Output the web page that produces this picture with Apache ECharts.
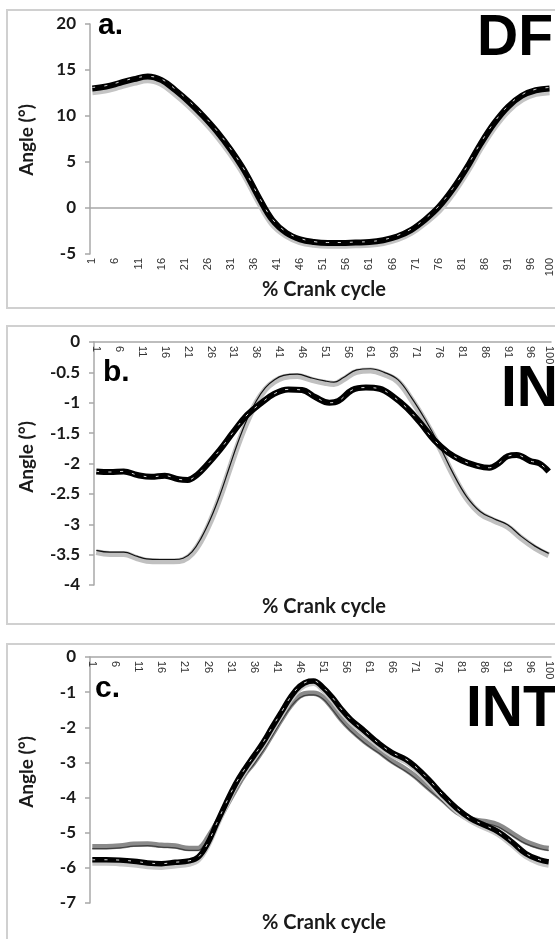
<!DOCTYPE html>
<html><head><meta charset="utf-8">
<script src="https://cdn.jsdelivr.net/npm/echarts@6/dist/echarts.min.js"></script>
<style>html,body{margin:0;padding:0;background:#fff}#c{width:555px;height:939px}</style>
</head><body><div id="c"></div>
<script>
// ---------- DATA ----------
const categories = Array.from({length: 100}, (_, i) => String(i + 1));

// Panel a: DF
const dfX = [1,4,7,10,13,16,19,22,25,28,31,34,37,40,43,46,49,52,55,58,61,64,67,70,73,76,79,82,85,88,91,94,97,100];
const dfBlack = [13.0,13.2,13.6,14.0,14.3,13.9,12.8,11.5,10.0,8.3,6.3,4.0,1.2,-1.3,-2.7,-3.4,-3.7,-3.8,-3.8,-3.75,-3.7,-3.5,-3.1,-2.4,-1.3,0.1,2.0,4.3,6.9,9.2,11.0,12.2,12.8,13.0];
const dfGrey  = [12.7,12.9,13.3,13.7,14.0,13.6,12.5,11.2,9.7,8.0,6.0,3.7,0.9,-1.6,-2.9,-3.6,-3.9,-4.0,-4.0,-3.95,-3.9,-3.7,-3.3,-2.6,-1.5,-0.2,1.7,4.0,6.6,8.9,10.7,11.9,12.5,12.7];
const dfDash  = [13.1,13.3,13.7,14.1,14.3,14.0,12.9,11.6,10.1,8.4,6.4,4.1,1.3,-1.2,-2.6,-3.3,-3.65,-3.75,-3.75,-3.7,-3.65,-3.45,-3.0,-2.3,-1.2,0.2,2.1,4.4,7.0,9.3,11.1,12.3,12.9,13.1];

// Panel b: IN
const inX = [1,4,7,10,13,16,19,21,23,25,28,31,34,37,40,43,46,49,52,54,57,60,63,66,69,72,75,78,81,84,87,89,91,93,96,98,100];
const inBlack = [-2.13,-2.14,-2.13,-2.19,-2.22,-2.20,-2.26,-2.27,-2.19,-2.04,-1.78,-1.48,-1.20,-1.01,-0.85,-0.78,-0.79,-0.91,-1.0,-0.97,-0.79,-0.75,-0.77,-0.90,-1.09,-1.34,-1.62,-1.82,-1.95,-2.03,-2.07,-2.0,-1.88,-1.86,-1.96,-2.0,-2.13];
const inGX = [1,4,7,10,12,15,18,20,22,24,26,28,30,32,34,36,38,40,42,45,48,51,53,55,58,61,64,67,70,73,76,79,82,85,88,91,94,97,100];
const inGrey = [-3.46,-3.49,-3.49,-3.56,-3.60,-3.61,-3.61,-3.59,-3.48,-3.26,-2.95,-2.57,-2.13,-1.69,-1.31,-1.00,-0.78,-0.65,-0.58,-0.56,-0.62,-0.67,-0.69,-0.62,-0.49,-0.47,-0.53,-0.65,-0.95,-1.31,-1.72,-2.18,-2.57,-2.82,-2.94,-3.04,-3.23,-3.39,-3.51];
const inThin = [-3.43,-3.46,-3.46,-3.53,-3.57,-3.58,-3.58,-3.56,-3.45,-3.22,-2.91,-2.53,-2.09,-1.65,-1.27,-0.97,-0.75,-0.62,-0.55,-0.53,-0.59,-0.64,-0.66,-0.59,-0.46,-0.44,-0.50,-0.62,-0.92,-1.28,-1.69,-2.15,-2.54,-2.79,-2.91,-3.01,-3.20,-3.36,-3.48];

// Panel c: INT
const intX = [1,4,7,10,13,16,19,22,24,26,28,30,32,34,36,38,40,42,44,46,48,49,51,53,55,57,60,63,66,69,71,74,77,80,83,86,89,92,95,98,100];
const intBlack = [-5.77,-5.77,-5.78,-5.81,-5.86,-5.88,-5.84,-5.80,-5.69,-5.31,-4.73,-4.16,-3.63,-3.20,-2.82,-2.44,-2.00,-1.57,-1.14,-0.83,-0.69,-0.68,-0.86,-1.14,-1.48,-1.77,-2.10,-2.44,-2.72,-2.91,-3.11,-3.49,-3.92,-4.30,-4.59,-4.78,-4.97,-5.26,-5.59,-5.77,-5.83];
const intLight = [-5.86,-5.86,-5.88,-5.91,-5.96,-5.98,-5.94,-5.89,-5.77,-5.38,-4.80,-4.23,-3.70,-3.27,-2.89,-2.51,-2.07,-1.64,-1.21,-0.90,-0.76,-0.75,-0.93,-1.21,-1.55,-1.84,-2.17,-2.51,-2.79,-2.98,-3.18,-3.56,-3.99,-4.37,-4.66,-4.85,-5.04,-5.34,-5.67,-5.86,-5.92];
const intGX = [1,4,7,10,13,16,19,22,24,25,26,28,30,32,34,36,38,40,42,44,46,48,49,51,53,55,57,60,63,66,69,71,74,77,80,83,86,89,92,95,98,100];
const intGrey = [-5.40,-5.40,-5.38,-5.33,-5.32,-5.36,-5.38,-5.45,-5.45,-5.35,-5.16,-4.73,-4.25,-3.78,-3.34,-3.01,-2.63,-2.20,-1.77,-1.38,-1.11,-1.03,-1.03,-1.14,-1.43,-1.77,-2.05,-2.39,-2.67,-2.96,-3.20,-3.39,-3.73,-4.06,-4.40,-4.61,-4.68,-4.78,-5.02,-5.26,-5.40,-5.45];
const intThin = [-5.45,-5.45,-5.43,-5.38,-5.37,-5.41,-5.43,-5.50,-5.50,-5.40,-5.21,-4.78,-4.30,-3.83,-3.39,-3.06,-2.68,-2.25,-1.82,-1.43,-1.16,-1.08,-1.08,-1.19,-1.48,-1.82,-2.10,-2.44,-2.72,-3.01,-3.25,-3.44,-3.78,-4.11,-4.45,-4.66,-4.73,-4.83,-5.07,-5.31,-5.45,-5.50];

const panelLabels = ['a.', 'b.', 'c.'];
const panelTitles = ['DF', 'IN', 'INT'];
const xTitle = '% Crank cycle';
const yTitle = 'Angle (°)';

// ---------- CHART ----------
const pairs = (xs, ys) => xs.map((x, i) => [String(x), ys[i]]);
const chart = echarts.init(document.getElementById('c'), null, {renderer: 'canvas'});

const AXIS_GREY = '#a8a8a8';
const yLabelStyle = {fontFamily: 'Lato', fontWeight: 'bold', fontSize: 17, color: '#1a1a1a', margin: 14};

function xAxis(i, top) {
  return {
    gridIndex: i, type: 'category', data: categories, boundaryGap: true,
    position: top ? 'top' : 'bottom',
    axisLine: {onZero: !top, lineStyle: {color: AXIS_GREY, width: 1.5}},
    axisTick: {show: false},
    splitLine: {show: false},
    axisLabel: {rotate: 90, inside: !!top, interval: (idx) => idx % 5 === 0 || idx === 99,
      fontFamily: 'Liberation Sans', fontSize: 11, color: '#333333', margin: 4}
  };
}
function yAxis(i, min, max, interval) {
  return {
    gridIndex: i, type: 'value', min, max, interval,
    axisLine: {show: true, onZero: false, lineStyle: {color: AXIS_GREY, width: 1.5}},
    axisTick: {show: true, inside: false, length: 5, lineStyle: {color: AXIS_GREY, width: 1.5}},
    splitLine: {show: false},
    axisLabel: yLabelStyle
  };
}
function line(i, data, color, width, z, extra) {
  return Object.assign({
    type: 'line', xAxisIndex: i, yAxisIndex: i, data, smooth: 0.4,
    showSymbol: false, symbol: 'none', z,
    lineStyle: {color, width}
  }, extra || {});
}
function dashLine(i, data, z) {
  return line(i, data, '#ffffff', 1, z, {lineStyle: {color: '#ffffff', width: 1, type: [3, 9], opacity: 0.85}});
}

const frames = [[7, 10, 560, 298], [7, 326, 560, 298], [7, 644, 560, 302]];
const labelPos = [[98, 26], [103, 373], [95, 689]];
const titlePos = [[477, 39], [501, 390], [466, 710]];
const xTitleY = [290, 607, 923];
const yTitleY = [140, 457, 772];

const graphic = [];
frames.forEach(f => graphic.push({type: 'rect', shape: {x: f[0], y: f[1], width: f[2], height: f[3]},
  style: {fill: 'none', stroke: '#d0d0d0', lineWidth: 2}, z: 0, silent: true}));
for (let i = 0; i < 3; i++) {
  graphic.push({type: 'text', x: labelPos[i][0], y: labelPos[i][1], z: 100,
    style: {text: panelLabels[i], font: 'bold 30px "Liberation Sans"', fill: '#000', textVerticalAlign: 'middle', verticalAlign: 'middle'}});
  graphic.push({type: 'text', x: titlePos[i][0], y: titlePos[i][1], z: 100,
    style: {text: panelTitles[i], font: 'bold 57px "Liberation Sans"', fill: '#000', textVerticalAlign: 'middle', verticalAlign: 'middle'}});
  graphic.push({type: 'text', x: 324, y: xTitleY[i], z: 100,
    style: {text: xTitle, font: 'bold 20px Lato', fill: '#1a1a1a', textAlign: 'center', align: 'center', textVerticalAlign: 'middle', verticalAlign: 'middle'}});
  graphic.push({type: 'text', x: 27, y: yTitleY[i], rotation: Math.PI / 2, z: 100,
    style: {text: yTitle, font: 'bold 19px Lato', fill: '#1a1a1a', textAlign: 'center', align: 'center', textVerticalAlign: 'middle', verticalAlign: 'middle'}});
}

chart.setOption({
  animation: false,
  backgroundColor: '#ffffff',
  graphic,
  grid: [
    {left: 90, right: 3, top: 24, height: 230},
    {left: 94, right: 4, top: 342, height: 243},
    {left: 90, right: 4, top: 657, height: 246}
  ],
  xAxis: [xAxis(0, false), xAxis(1, true), xAxis(2, true)],
  yAxis: [yAxis(0, -5, 20, 5), yAxis(1, -4, 0, 0.5), yAxis(2, -7, 0, 1)],
  series: [
    // a
    line(0, pairs(dfX, dfGrey), '#c4c4c4', 8, 3),
    line(0, pairs(dfX, dfBlack), '#000000', 6, 4),
    dashLine(0, pairs(dfX, dfDash), 5),
    // b
    line(1, pairs(inGX, inGrey), '#c0c0c0', 6, 3),
    line(1, pairs(inGX, inThin), '#111111', 1.2, 4),
    line(1, pairs(inX, inBlack), '#000000', 6, 5),
    dashLine(1, pairs(inX, inBlack), 6),
    // c
    line(2, pairs(intGX, intGrey), '#8a8a8a', 5.5, 3),
    line(2, pairs(intGX, intThin), '#404040', 1.2, 4),
    line(2, pairs(intX, intLight), '#c8c8c8', 5.5, 4),
    line(2, pairs(intX, intBlack), '#000000', 5.5, 5),
    dashLine(2, pairs(intX, intBlack), 6)
  ]
});
</script>
</body></html>
